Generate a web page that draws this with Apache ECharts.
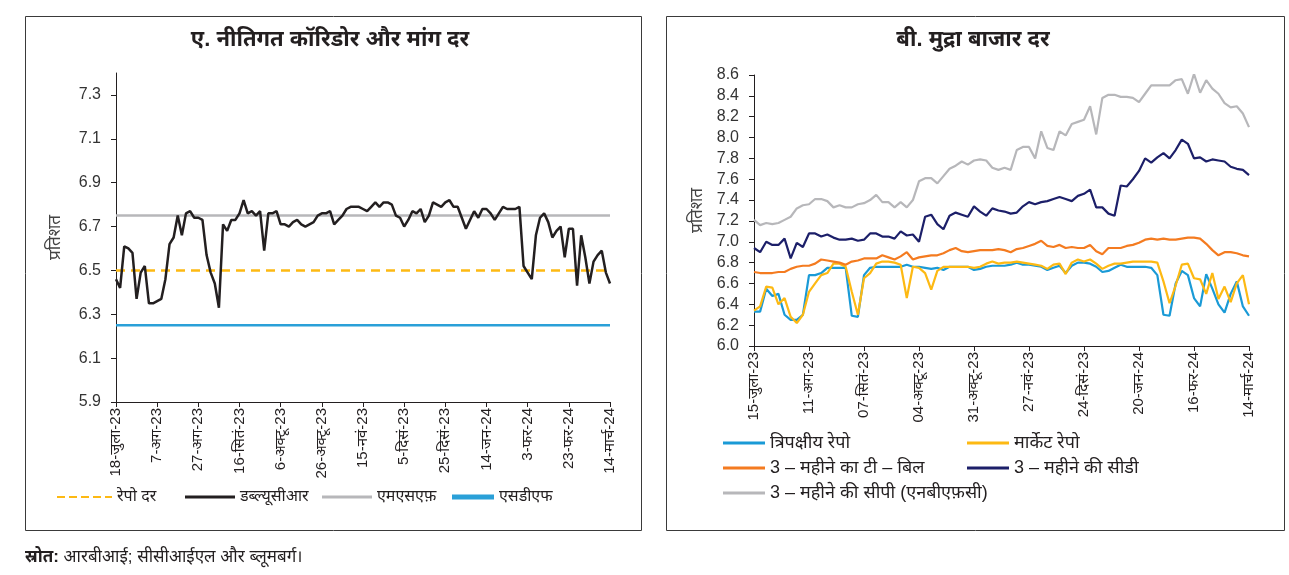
<!DOCTYPE html>
<html><head><meta charset="utf-8">
<script src="https://cdn.jsdelivr.net/npm/echarts@6/dist/echarts.min.js"></script>
<style>html,body{margin:0;padding:0;background:#fff}#c{width:1289px;height:575px}</style>
</head><body><div id="c"></div>
<script>
// ---------- Panel A: policy corridor and call rate (2-day steps, 18-Jul-23 .. 14-Mar-24)
const leftTickLabels = ['18-जुला-23','7-अग-23','27-अग-23','16-सितं-23','6-अक्टू-23','26-अक्टू-23','15-नवं-23','5-दिसं-23','25-दिसं-23','14-जन-24','3-फर-24','23-फर-24','14-मार्च-24'];
const repoRate = 6.50;
const msfRate = 6.75;
const sdfRate = 6.25;
const wacr = [
6.46,6.42,6.61,6.60,6.58,6.37,6.49,6.52,6.35,6.35,
6.36,6.37,6.46,6.62,6.65,6.75,6.66,6.76,6.77,6.74,
6.74,6.73,6.57,6.49,6.44,6.33,6.71,6.68,6.73,6.73,
6.76,6.82,6.76,6.77,6.75,6.77,6.59,6.76,6.76,6.77,
6.71,6.71,6.70,6.72,6.73,6.71,6.70,6.71,6.72,6.75,
6.76,6.76,6.77,6.71,6.73,6.75,6.78,6.79,6.79,6.79,
6.78,6.77,6.79,6.81,6.79,6.81,6.81,6.80,6.75,6.74,
6.70,6.73,6.77,6.76,6.78,6.72,6.75,6.81,6.80,6.79,
6.81,6.82,6.79,6.79,6.74,6.69,6.73,6.77,6.74,6.78,
6.78,6.76,6.73,6.76,6.79,6.78,6.78,6.78,6.79,6.52,
6.49,6.46,6.66,6.74,6.76,6.72,6.65,6.68,6.70,6.56,
6.69,6.69,6.43,6.66,6.56,6.44,6.54,6.57,6.59,6.49,
6.44];

// ---------- Panel B: money market rates (3-day steps, 15-Jul-23 .. 14-Mar-24)
const rightTickLabels = ['15-जुला-23','11-अग-23','07-सितं-23','04-अक्टू-23','31-अक्टू-23','27-नवं-23','24-दिसं-23','20-जन-24','16-फर-24','14-मार्च-24'];
const triparty = [
6.33,6.33,6.55,6.48,6.50,6.30,6.25,6.25,6.30,6.68,
6.68,6.70,6.75,6.75,6.75,6.75,6.29,6.28,6.68,6.75,
6.76,6.76,6.76,6.76,6.76,6.78,6.76,6.76,6.75,6.74,
6.75,6.73,6.76,6.76,6.76,6.76,6.73,6.74,6.76,6.77,
6.77,6.77,6.78,6.80,6.78,6.78,6.77,6.76,6.73,6.75,
6.77,6.70,6.77,6.80,6.80,6.79,6.76,6.71,6.72,6.75,
6.78,6.76,6.76,6.76,6.76,6.75,6.68,6.30,6.29,6.60,
6.72,6.68,6.46,6.38,6.69,6.55,6.40,6.32,6.50,6.62,
6.38,6.29];
const marketRepo = [
6.34,6.38,6.57,6.56,6.40,6.46,6.28,6.22,6.30,6.52,
6.60,6.68,6.70,6.79,6.79,6.76,6.52,6.30,6.65,6.70,
6.79,6.81,6.81,6.80,6.78,6.46,6.76,6.75,6.70,6.54,
6.72,6.76,6.76,6.76,6.76,6.76,6.75,6.76,6.79,6.81,
6.79,6.80,6.80,6.81,6.80,6.79,6.78,6.77,6.74,6.78,
6.79,6.69,6.80,6.83,6.81,6.83,6.79,6.74,6.77,6.79,
6.79,6.80,6.81,6.81,6.81,6.81,6.80,6.62,6.41,6.58,
6.78,6.79,6.65,6.64,6.50,6.70,6.45,6.57,6.42,6.60,
6.68,6.40];
const tbill3m = [
6.71,6.70,6.70,6.70,6.71,6.71,6.74,6.76,6.77,6.77,
6.79,6.83,6.82,6.81,6.80,6.78,6.81,6.82,6.84,6.84,
6.84,6.87,6.85,6.83,6.86,6.90,6.83,6.85,6.86,6.87,
6.87,6.89,6.92,6.94,6.91,6.90,6.91,6.92,6.92,6.92,
6.93,6.92,6.90,6.93,6.94,6.96,6.98,7.01,6.96,6.95,
6.97,6.94,6.95,6.94,6.94,6.97,6.91,6.88,6.94,6.94,
6.94,6.96,6.97,6.99,7.02,7.03,7.02,7.03,7.02,7.02,
7.03,7.04,7.04,7.03,6.98,6.92,6.87,6.90,6.90,6.89,
6.87,6.86];
const cd3m = [
6.94,6.90,7.00,6.97,6.97,7.03,6.84,6.99,6.95,7.08,
7.08,7.05,7.07,7.04,7.02,7.02,7.03,7.01,7.02,7.08,
7.08,7.05,7.05,7.03,7.10,7.06,7.07,7.00,7.24,7.26,
7.17,7.12,7.25,7.28,7.26,7.24,7.34,7.29,7.25,7.32,
7.30,7.29,7.27,7.28,7.34,7.38,7.36,7.38,7.39,7.41,
7.43,7.41,7.39,7.44,7.46,7.50,7.33,7.33,7.27,7.25,
7.54,7.53,7.60,7.68,7.80,7.76,7.81,7.85,7.80,7.88,
7.98,7.94,7.80,7.81,7.77,7.79,7.78,7.77,7.72,7.70,
7.69,7.64];
const cp3m = [
7.21,7.16,7.18,7.17,7.18,7.21,7.24,7.32,7.35,7.36,
7.41,7.41,7.39,7.33,7.35,7.33,7.33,7.36,7.37,7.40,
7.45,7.38,7.38,7.33,7.38,7.33,7.40,7.58,7.61,7.61,
7.56,7.63,7.70,7.73,7.77,7.74,7.78,7.79,7.78,7.71,
7.69,7.71,7.69,7.88,7.91,7.91,7.80,8.06,7.90,7.88,
8.06,8.02,8.13,8.15,8.17,8.30,8.03,8.38,8.41,8.41,
8.39,8.39,8.38,8.34,8.42,8.50,8.50,8.50,8.50,8.55,
8.56,8.42,8.61,8.43,8.55,8.47,8.42,8.33,8.29,8.30,
8.23,8.10];

function makeDates(y, m, d, step, n) {
  const out = [];
  for (let k = 0; k < n; k++) {
    const t = new Date(Date.UTC(y, m - 1, d + k * step));
    out.push(t.toISOString().slice(0, 10));
  }
  return out;
}
const leftDates = makeDates(2023, 7, 18, 2, wacr.length);
const rightDates = makeDates(2023, 7, 15, 3, cp3m.length);

const FONT = "'Liberation Sans', 'Noto Sans', sans-serif";
const TXT = '#231f20';
const C = {
  yellow: '#fdb913', black: '#231f20', gray: '#b7b7ba', sdf: '#2aa0d8',
  blue: '#1a9ad6', orange: '#f47b20', navy: '#1c1f69'
};
const DASH_ICON = 'path://M0,0h8v2h-8z M12,0h8v2h-8z M24,0h8v2h-8z M36,0h8v2h-8z M48,0h7v2h-7z';

function catAxis(gi, data, labels, step) {
  return {
    type: 'category', gridIndex: gi, data: data, boundaryGap: false,
    axisLine: { lineStyle: { color: TXT, width: 1 } },
    axisTick: { interval: i => i % step === 0, length: 5, lineStyle: { color: TXT } },
    axisLabel: {
      interval: i => i % step === 0, rotate: 90, margin: 6,
      formatter: (v, i) => labels[Math.round(i / step)],
      fontFamily: FONT, fontSize: 15, color: TXT
    },
    splitLine: { show: false }
  };
}
function valAxis(gi, min, max, gap, showMax) {
  return {
    type: 'value', gridIndex: gi, min: min, max: max, interval: 0.2,
    name: 'प्रतिशत', nameLocation: 'middle', nameGap: gap,
    nameTextStyle: { fontFamily: FONT, fontSize: 17, color: '#444' },
    axisLine: { show: true, lineStyle: { color: TXT } },
    axisTick: { show: true, length: 5, lineStyle: { color: TXT } },
    splitLine: { show: false },
    axisLabel: { formatter: v => v.toFixed(1), fontFamily: FONT, fontSize: 16, color: '#333', showMaxLabel: showMax, margin: 15 }
  };
}
function flat(dates, v) { return [[dates[0], v], [dates[dates.length - 1], v]]; }
function line(name, xi, data, color, width, extra) {
  return Object.assign({
    name: name, type: 'line', xAxisIndex: xi, yAxisIndex: xi, data: data,
    showSymbol: false, symbol: 'none', smooth: false, animation: false,
    lineStyle: { color: color, width: width }, itemStyle: { color: color }
  }, extra || {});
}

function leg(names, left, top, w, h, icon, fs, vertical) {
  return { data: names, left: left, top: top, itemWidth: w, itemHeight: h, icon: icon,
    orient: vertical ? 'vertical' : 'horizontal', itemGap: 7, padding: 0,
    textStyle: { fontFamily: FONT, fontSize: fs, lineHeight: 18, color: TXT } };
}
const option = {
  backgroundColor: '#fff',
  animation: false,
  grid: [
    { left: 116, top: 73, width: 494, height: 329 },
    { left: 754, top: 75, width: 495, height: 271 }
  ],
  xAxis: [catAxis(0, leftDates, leftTickLabels, 10), catAxis(1, rightDates, rightTickLabels, 9)],
  yAxis: [valAxis(0, 5.9, 7.4, 52, false), valAxis(1, 6.0, 8.6, 48, true)],
  legend: [
    leg(['रेपो दर'], 57, 488, 55, 3, DASH_ICON, 16),
    leg(['डब्ल्यूसीआर'], 185, 488, 50, 3, 'rect', 16),
    leg(['एमएसएफ़'], 322, 488, 50, 3, 'rect', 16),
    leg(['एसडीएफ'], 452, 488, 42, 5, 'rect', 16),
    leg(['त्रिपक्षीय रेपो', '3 – महीने का टी – बिल', '3 – महीने की सीपी (एनबीएफ़सी)'], 723, 434, 42, 3, 'rect', 18, true),
    leg(['मार्केट रेपो', '3 – महीने की सीडी'], 967, 434, 42, 3, 'rect', 18, true)
  ],
  series: [
    line('रेपो दर', 0, flat(leftDates, repoRate), C.yellow, 2.5, { lineStyle: { color: C.yellow, width: 2.5, type: [9, 6] }, z: 2 }),
    line('डब्ल्यूसीआर', 0, wacr, C.black, 2.5, { z: 5 }),
    line('एमएसएफ़', 0, flat(leftDates, msfRate), C.gray, 2.5, { z: 3 }),
    line('एसडीएफ', 0, flat(leftDates, sdfRate), C.sdf, 2.5, { z: 3 }),
    line('त्रिपक्षीय रेपो', 1, triparty, C.blue, 2.2),
    line('मार्केट रेपो', 1, marketRepo, C.yellow, 2.2),
    line('3 – महीने का टी – बिल', 1, tbill3m, C.orange, 2.2),
    line('3 – महीने की सीडी', 1, cd3m, C.navy, 2.2),
    line('3 – महीने की सीपी (एनबीएफ़सी)', 1, cp3m, C.gray, 2.2)
  ],
  graphic: [
    { type: 'rect', shape: { x: 25.5, y: 16.5, width: 616, height: 514 }, style: { fill: 'none', stroke: '#3a3a3a', lineWidth: 1 }, silent: true },
    { type: 'rect', shape: { x: 666.5, y: 16.5, width: 618, height: 514 }, style: { fill: 'none', stroke: '#3a3a3a', lineWidth: 1 }, silent: true },
    { type: 'text', x: 330, y: 40, style: { text: 'ए. नीतिगत कॉरिडोर और मांग दर', fill: TXT, font: 'bold 22px ' + FONT, align: 'center', verticalAlign: 'middle' } },
    { type: 'text', x: 973, y: 40, style: { text: 'बी. मुद्रा बाजार दर', fill: TXT, font: 'bold 22px ' + FONT, align: 'center', verticalAlign: 'middle' } },
    { type: 'text', x: 25, y: 557, style: {
        text: '{b|स्रोत:} आरबीआई; सीसीआईएल और ब्लूमबर्ग।', fill: TXT, font: '17px ' + FONT, verticalAlign: 'middle',
        rich: { b: { fontWeight: 'bold', fontSize: 17, fontFamily: FONT, fill: TXT } } } }
  ]
};
const chart = echarts.init(document.getElementById('c'), null, { renderer: 'canvas' });
chart.setOption(option);
</script>
</body></html>
